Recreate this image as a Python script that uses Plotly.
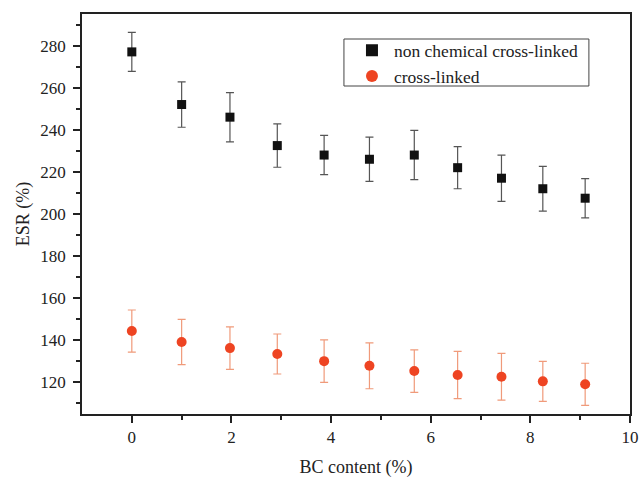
import plotly.graph_objects as go

bc_content = [0, 1.0, 1.97, 2.92, 3.86, 4.77, 5.67, 6.54, 7.42, 8.25, 9.10]

esr_non = [277, 252, 246, 232.5, 228, 226, 228, 222, 217, 212, 207.5]
err_non = [9.3, 10.8, 11.7, 10.3, 9.3, 10.5, 11.7, 10.0, 11.0, 10.6, 9.3]

esr_cross = [144.4, 139.2, 136.3, 133.5, 130.1, 127.9, 125.4, 123.5, 122.7, 120.5, 119.1]
err_cross = [10.0, 10.7, 10.1, 9.5, 10.1, 10.9, 10.1, 11.2, 11.1, 9.5, 10.0]

FONT = "Liberation Serif, Times New Roman, DejaVu Serif, serif"

fig = go.Figure()
fig.add_trace(go.Scatter(
    x=bc_content, y=esr_non, mode="markers", name="non chemical cross-linked",
    marker=dict(symbol="square", size=9, color="#111111"),
    error_y=dict(type="data", array=err_non, visible=True, color="#555555",
                 thickness=1.2, width=4),
))
fig.add_trace(go.Scatter(
    x=bc_content, y=esr_cross, mode="markers", name="cross-linked",
    marker=dict(symbol="circle", size=10, color="#ee4422"),
    error_y=dict(type="data", array=err_cross, visible=True, color="#f09a7a",
                 thickness=1.2, width=4),
))

# legend frame
fig.add_shape(type="rect", xref="paper", yref="paper",
              x0=0.478, x1=0.925, y0=0.82, y1=0.9375,
              line=dict(color="#444444", width=1), fillcolor="rgba(0,0,0,0)")

fig.update_layout(
    width=639, height=478,
    margin=dict(l=82, r=9, t=14, b=64),
    paper_bgcolor="white", plot_bgcolor="white",
    font=dict(family=FONT, size=16, color="#222222"),
    showlegend=True,
    legend=dict(
        x=0.489, y=0.954, xanchor="left", yanchor="top",
        borderwidth=0, bgcolor="rgba(0,0,0,0)",
        font=dict(family=FONT, size=17.5, color="#222222"),
        itemsizing="constant", tracegroupgap=0, itemwidth=34,
    ),
    xaxis=dict(
        range=[-1, 10], tickvals=[0, 2, 4, 6, 8, 10], automargin=False,
        ticks="outside", ticklen=7, tickwidth=1.5, tickcolor="#222222",
        tickfont=dict(family=FONT, size=17),
        minor=dict(tickvals=[1, 3, 5, 7, 9], ticks="outside", ticklen=4,
                   tickwidth=1.5, tickcolor="#222222"),
        showline=True, linecolor="#222222", linewidth=1.5, mirror=True,
        showgrid=False, zeroline=False,
        title=dict(text="BC content (%)", font=dict(family=FONT, size=18), standoff=14),
    ),
    yaxis=dict(
        range=[105, 295], tickvals=list(range(120, 281, 20)), automargin=False,
        ticks="outside", ticklen=7, tickwidth=1.5, tickcolor="#222222",
        tickfont=dict(family=FONT, size=17),
        minor=dict(tickvals=list(range(110, 295, 20)), ticks="outside", ticklen=4,
                   tickwidth=1.5, tickcolor="#222222"),
        showline=True, linecolor="#222222", linewidth=1.5, mirror=True,
        showgrid=False, zeroline=False,
        ticklabelstandoff=4,
        title=dict(text="ESR (%)", font=dict(family=FONT, size=18), standoff=6),
    ),
)

fig.write_html(
    "out.html",
    config={"displayModeBar": False},
    post_script="document.body.style.margin='0';document.body.style.padding='0';",
)
